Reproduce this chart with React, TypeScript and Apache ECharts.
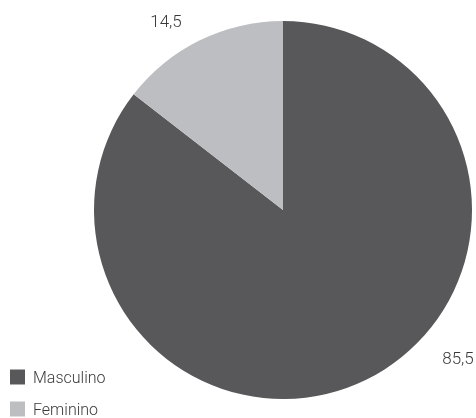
import React, { useEffect, useRef } from "react";
import * as echarts from "echarts";

const categories = ["Masculino", "Feminino"];
const values = [85.5, 14.5];
const colors = ["#58585a", "#bdbec2"];
const labelPos: [number, number][] = [
  [458, 358],
  [166, 21],
];
const legendTops = [369, 401];

export default function App() {
  const ref = useRef<HTMLDivElement>(null);
  useEffect(() => {
    if (!ref.current) return;
    const chart = echarts.init(ref.current, undefined, { renderer: "svg" });
    chart.setOption({
      animation: false,
      color: colors,
      legend: categories.map((c, i) => ({
        orient: "vertical",
        left: 10,
        top: legendTops[i],
        padding: 0,
        itemWidth: 15,
        itemHeight: 15,
        icon: "rect",
        data: [c],
        textStyle: {
          fontFamily: "Roboto",
          fontWeight: 300,
          fontSize: 16,
          lineHeight: 15,
          color: "#3a3a3a",
          padding: [0, 0, 0, 3],
        },
      })),
      series: [
        {
          type: "pie",
          center: [283, 210],
          radius: 189,
          startAngle: 90,
          clockwise: true,
          silent: true,
          label: {
            show: true,
            position: "outside",
            formatter: (p: any) => String(p.value).replace(".", ","),
            fontFamily: "Roboto",
            fontWeight: 300,
            fontSize: 17,
            color: "#3a3a3a",
          },
          labelLine: { show: false },
          labelLayout: (params: any) => {
            const pos = labelPos[params.dataIndex];
            return { x: pos[0], y: pos[1], align: "center", verticalAlign: "middle" };
          },
          data: categories.map((c, i) => ({ name: c, value: values[i] })),
        },
      ],
    });
    return () => chart.dispose();
  }, []);
  return (
    <div
      ref={ref}
      style={{ position: "fixed", left: 0, top: 0, width: 476, height: 418, overflow: "hidden" }}
    />
  );
}
